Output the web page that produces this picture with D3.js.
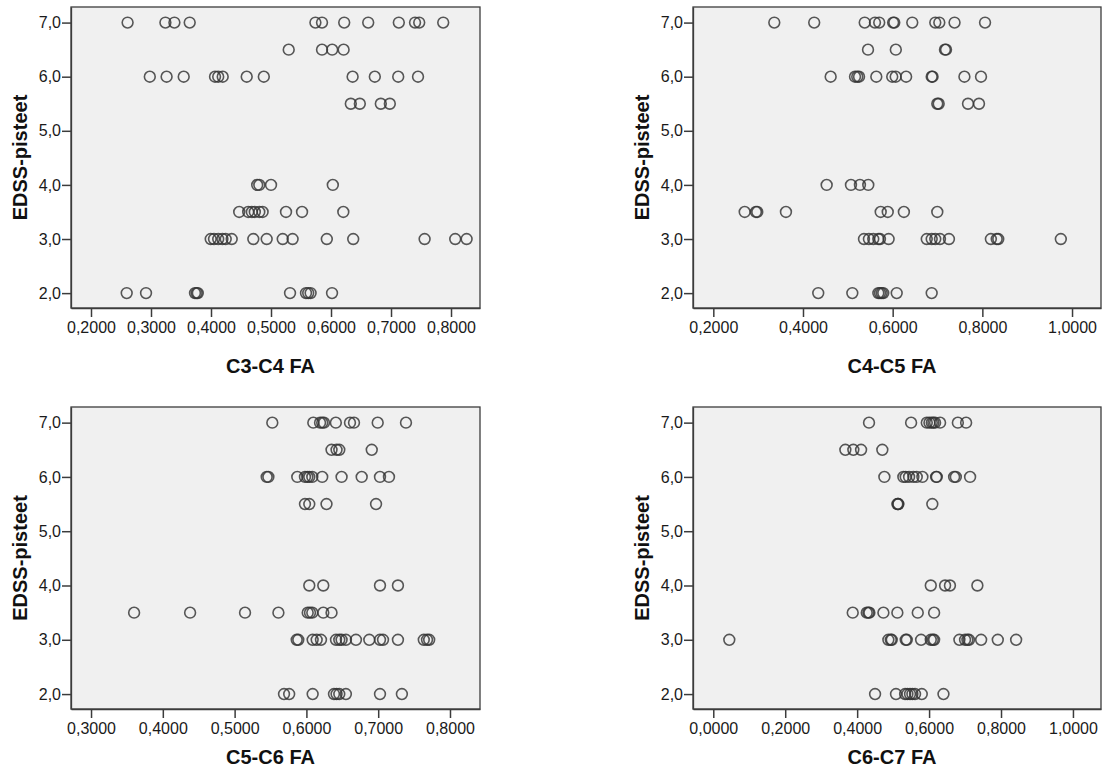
<!DOCTYPE html>
<html><head><meta charset="utf-8">
<script src="https://cdn.jsdelivr.net/npm/d3@7/dist/d3.min.js"></script>
<style>
body{margin:0;background:#fff;}
svg{display:block;font-family:"Liberation Sans",Arial,sans-serif;}
</style></head>
<body>
<svg id="chart" width="1109" height="782"></svg>
<script>
// ---- Data ----
const yTicks = [2, 3, 4, 5, 6, 7];
const yTitle = "EDSS-pisteet";

const c3c4Title = "C3-C4 FA";
const c3c4Ticks = [0.2, 0.3, 0.4, 0.5, 0.6, 0.7, 0.8];
const c3c4FA = [
  0.261,0.324,0.339,0.3645,0.574,0.585,0.622,0.662,0.713,0.74,0.747,0.787,
  0.5295,0.585,0.602,0.621,
  0.298,0.326,0.3545,0.4067,0.412,0.4195,0.4595,0.488,0.636,0.673,0.712,0.745,
  0.633,0.648,0.683,0.698,
  0.477,0.4805,0.5,0.603,
  0.447,0.462,0.468,0.473,0.4805,0.486,0.525,0.5517,0.6205,
  0.3995,0.405,0.412,0.419,0.4245,0.4345,0.4705,0.4928,0.5195,0.536,0.593,0.637,0.756,0.807,0.826,
  0.2595,0.2917,0.3733,0.376,0.378,0.5317,0.5583,0.562,0.566,0.6017];
const c3c4EDSS = [
  7,7,7,7,7,7,7,7,7,7,7,7,
  6.5,6.5,6.5,6.5,
  6,6,6,6,6,6,6,6,6,6,6,6,
  5.5,5.5,5.5,5.5,
  4,4,4,4,
  3.5,3.5,3.5,3.5,3.5,3.5,3.5,3.5,3.5,
  3,3,3,3,3,3,3,3,3,3,3,3,3,3,3,
  2,2,2,2,2,2,2,2,2,2];

const c4c5Title = "C4-C5 FA";
const c4c5Ticks = [0.2, 0.4, 0.6, 0.8, 1.0];
const c4c5FA = [
  0.336,0.425,0.5376,0.5605,0.57,0.601,0.6036,0.6437,0.695,0.704,0.738,0.806,
  0.545,0.607,0.7166,0.719,
  0.4617,0.516,0.521,0.525,0.5635,0.599,0.6067,0.63,0.687,0.689,0.76,0.797,
  0.6995,0.7026,0.768,0.7925,
  0.4528,0.507,0.527,0.5456,
  0.27,0.295,0.298,0.362,0.5733,0.589,0.625,0.6995,
  0.536,0.547,0.5567,0.568,0.5717,0.591,0.676,0.687,0.695,0.7055,0.7255,0.819,0.832,0.8355,0.975,
  0.434,0.51,0.568,0.5717,0.5755,0.579,0.609,0.687];
const c4c5EDSS = [
  7,7,7,7,7,7,7,7,7,7,7,7,
  6.5,6.5,6.5,6.5,
  6,6,6,6,6,6,6,6,6,6,6,6,
  5.5,5.5,5.5,5.5,
  4,4,4,4,
  3.5,3.5,3.5,3.5,3.5,3.5,3.5,3.5,
  3,3,3,3,3,3,3,3,3,3,3,3,3,3,3,
  2,2,2,2,2,2,2,2];

const c5c6Title = "C5-C6 FA";
const c5c6Ticks = [0.3, 0.4, 0.5, 0.6, 0.7, 0.8];
const c5c6FA = [
  0.5525,0.6096,0.619,0.622,0.6245,0.641,0.6607,0.6663,0.6993,0.7387,
  0.635,0.642,0.6458,0.691,
  0.5447,0.547,0.5873,0.598,0.6013,0.604,0.6082,0.622,0.649,0.677,0.7025,0.715,
  0.598,0.604,0.628,0.697,
  0.604,0.6235,0.7025,0.7275,
  0.36,0.438,0.5145,0.561,0.6018,0.605,0.6082,0.6235,0.635,
  0.5865,0.5887,0.6087,0.6143,0.6203,0.6412,0.6458,0.649,0.655,0.669,0.6876,0.7025,0.7067,0.7275,0.7635,0.768,0.771,
  0.5688,0.576,0.6087,0.6384,0.642,0.6458,0.655,0.7025,0.7330];
const c5c6EDSS = [
  7,7,7,7,7,7,7,7,7,7,
  6.5,6.5,6.5,6.5,
  6,6,6,6,6,6,6,6,6,6,6,6,
  5.5,5.5,5.5,5.5,
  4,4,4,4,
  3.5,3.5,3.5,3.5,3.5,3.5,3.5,3.5,3.5,
  3,3,3,3,3,3,3,3,3,3,3,3,3,3,3,3,3,
  2,2,2,2,2,2,2,2,2];

const c6c7Title = "C6-C7 FA";
const c6c7Ticks = [0.0, 0.2, 0.4, 0.6, 0.8, 1.0];
const c6c7FA = [
  0.433,0.55,0.5936,0.601,0.6075,0.612,0.6167,0.6306,0.68,0.703,
  0.3672,0.3894,0.4109,0.47,
  0.4757,0.5285,0.535,0.5444,0.5563,0.5657,0.5814,0.6195,0.6214,0.6696,0.6743,0.714,
  0.5118,0.5137,0.5146,0.609,
  0.6047,0.6445,0.658,0.7343,
  0.3877,0.4267,0.4312,0.434,0.473,0.5118,0.5685,0.614,
  0.0445,0.4868,0.4935,0.4962,0.535,0.538,0.5778,0.6047,0.6103,0.614,0.6843,0.70,0.7066,0.711,0.7447,0.791,0.842,
  0.4498,0.508,0.5333,0.5397,0.547,0.5536,0.561,0.5797,0.64];
const c6c7EDSS = [
  7,7,7,7,7,7,7,7,7,7,
  6.5,6.5,6.5,6.5,
  6,6,6,6,6,6,6,6,6,6,6,6,
  5.5,5.5,5.5,5.5,
  4,4,4,4,
  3.5,3.5,3.5,3.5,3.5,3.5,3.5,3.5,
  3,3,3,3,3,3,3,3,3,3,3,3,3,3,3,3,3,
  2,2,2,2,2,2,2,2,2];

// ---- Layout ----
const panels = [
  {title:c3c4Title, ticks:c3c4Ticks, xs:c3c4FA, ys:c3c4EDSS, xd:[0.16667,0.8483], box:[71,7,480,308], tOff:65},
  {title:c4c5Title, ticks:c4c5Ticks, xs:c4c5FA, ys:c4c5EDSS, xd:[0.1547,1.0646], box:[693,7,1101,308], tOff:65},
  {title:c5c6Title, ticks:c5c6Ticks, xs:c5c6FA, ys:c5c6EDSS, xd:[0.2721,0.8418], box:[71,407,480,709], tOff:55},
  {title:c6c7Title, ticks:c6c7Ticks, xs:c6c7FA, ys:c6c7EDSS, xd:[-0.0564,1.078], box:[693,407,1101,709], tOff:55}
];
const yDomain = [1.725, 7.288];
const comma = f => v => f(v).replace(".", ",");
const fmtY = comma(d3.format(".1f"));
const fmtX = comma(d3.format(".4f"));

const svg = d3.select("#chart");

panels.forEach(p => {
  const [x0, y0, x1, y1] = p.box;
  const x = d3.scaleLinear().domain(p.xd).range([x0, x1]);
  const y = d3.scaleLinear().domain(yDomain).range([y1, y0]);
  const g = svg.append("g");

  g.append("rect").attr("x", x0).attr("y", y0).attr("width", x1 - x0).attr("height", y1 - y0)
    .attr("fill", "#f0f0f0").attr("stroke", "#3c3c3c").attr("stroke-width", 1.3);

  const ax = g.append("g").attr("transform", `translate(0,${y1})`)
    .call(d3.axisBottom(x).tickValues(p.ticks).tickFormat(fmtX).tickSize(9).tickSizeOuter(0).tickPadding(5));
  const ay = g.append("g").attr("transform", `translate(${x0},0)`)
    .call(d3.axisLeft(y).tickValues(yTicks).tickFormat(fmtY).tickSize(9).tickSizeOuter(0).tickPadding(1));
  [ax, ay].forEach(a => {
    a.select(".domain").attr("stroke", "#3c3c3c").attr("stroke-width", 1.3);
    a.selectAll(".tick line").attr("stroke", "#3c3c3c").attr("stroke-width", 1.5);
    a.selectAll(".tick text").attr("fill", "#1a1a1a").style("font-size", "16px")
      .style("font-family", '"Liberation Sans",Arial,sans-serif');
  });

  g.append("g").selectAll("circle").data(p.xs.map((v, i) => [v, p.ys[i]])).join("circle")
    .attr("cx", d => x(d[0])).attr("cy", d => y(d[1])).attr("r", 5.4)
    .attr("fill", "none").attr("stroke", "#333").attr("stroke-opacity", 0.82).attr("stroke-width", 1.6);

  g.append("text").attr("x", (x0 + x1) / 2 - 5).attr("y", y1 + p.tOff)
    .attr("text-anchor", "middle").attr("font-weight", "bold").attr("font-size", 20).attr("fill", "#111")
    .text(p.title);
  g.append("text").attr("transform", `translate(${x0 - 44},${(y0 + y1) / 2}) rotate(-90)`)
    .attr("text-anchor", "middle").attr("font-weight", "bold").attr("font-size", 20).attr("fill", "#111")
    .text(yTitle);
});
</script>
</body></html>
